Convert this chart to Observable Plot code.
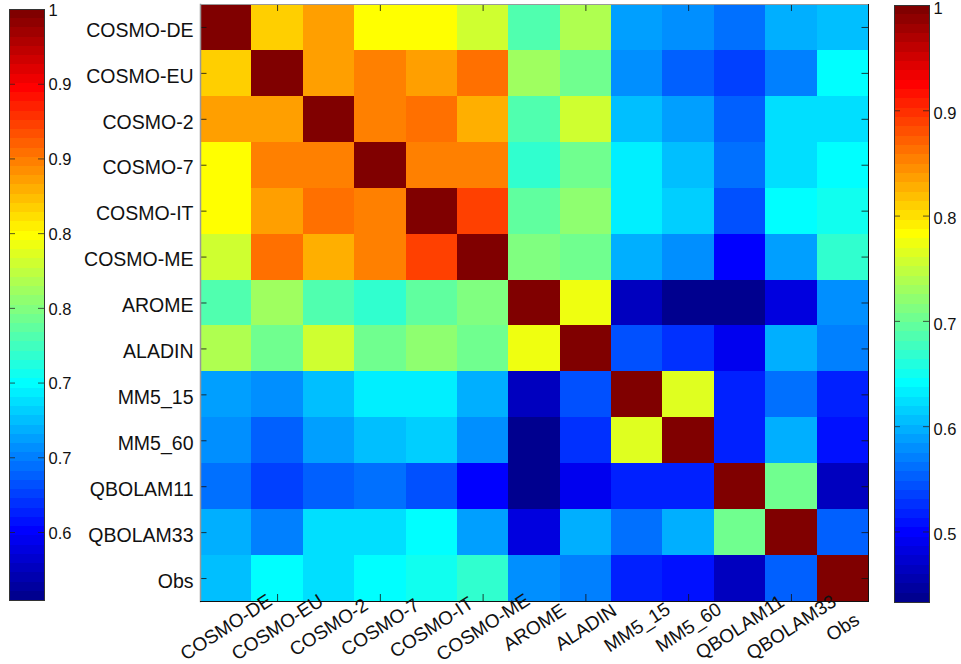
<!DOCTYPE html>
<html>
<head>
<meta charset="utf-8">
<script src="https://cdn.jsdelivr.net/npm/d3@7"></script>
<script src="https://cdn.jsdelivr.net/npm/@observablehq/plot@0.6"></script>
<style>
html,body{margin:0;padding:0;background:#fff;overflow:hidden}
#wrap{position:relative;width:961px;height:664px}
#wrap svg{position:absolute;background:none;overflow:visible}
</style>
</head>
<body>
<div id="wrap"></div>
<script>
const models = ["COSMO-DE","COSMO-EU","COSMO-2","COSMO-7","COSMO-IT","COSMO-ME","AROME","ALADIN","MM5_15","MM5_60","QBOLAM11","QBOLAM33","Obs"];
const rowCosmoDE  = [1,.809,.836,.783,.783,.757,.686,.739,.5885,.5795,.5617,.5973,.606];
const rowCosmoEU  = [.809,1,.836,.8535,.836,.862,.730,.7036,.5795,.5528,.535,.5706,.6412];
const rowCosmo2   = [.836,.836,1,.8535,.862,.8266,.686,.757,.606,.5885,.5528,.624,.624];
const rowCosmo7   = [.783,.8535,.8535,1,.8535,.8535,.668,.7036,.633,.606,.5617,.624,.6412];
const rowCosmoIT  = [.783,.836,.862,.8535,1,.889,.6946,.721,.633,.615,.544,.6412,.650];
const rowCosmoME  = [.757,.862,.8266,.8535,.889,1,.7124,.7036,.5973,.5795,.4995,.5885,.668];
const rowArome    = [.686,.730,.686,.668,.6946,.7124,1,.7745,.464,.4375,.434,.482,.5795];
const rowAladin   = [.739,.7036,.757,.7036,.721,.7036,.7745,1,.544,.5262,.4904,.5973,.5706];
const rowMM515    = [.5885,.5795,.606,.633,.633,.5973,.464,.544,1,.766,.5173,.5617,.5173];
const rowMM560    = [.5795,.5528,.5885,.606,.615,.5795,.4375,.5262,.766,1,.5173,.5973,.5084];
const rowQbolam11 = [.5617,.535,.5528,.5617,.544,.4995,.434,.4904,.5173,.5173,1,.7036,.464];
const rowQbolam33 = [.5973,.5706,.624,.624,.6412,.5885,.482,.5973,.5617,.5973,.7036,1,.5528];
const rowObs      = [.606,.6412,.624,.6412,.650,.668,.5795,.5706,.5173,.5084,.464,.5528,1];
const rows = [rowCosmoDE,rowCosmoEU,rowCosmo2,rowCosmo7,rowCosmoIT,rowCosmoME,rowArome,rowAladin,rowMM515,rowMM560,rowQbolam11,rowQbolam33,rowObs];

const rightDomain = [.433,1];
const rightTicks = [.5,.6,.7,.8,.9,1];
const rightLabels = ["0.5","0.6","0.7","0.8","0.9","1"];
const leftDomain = [.6045,1];
const leftTicks = [1,.95,.9,.85,.8,.75,.7,.65];
const leftLabels = ["1","0.9","0.9","0.8","0.8","0.7","0.7","0.6"];
const xTickModels = ["COSMO-EU","COSMO-7","COSMO-ME","ALADIN","MM5_60","QBOLAM33"];

const FONT = '"Liberation Sans", Arial, sans-serif';
const N = 64;
function jet(t){
  const q = Math.min(N-1, Math.floor(t*N));
  const u = (q+1)/N;
  const c = x => Math.round(255*Math.max(0,Math.min(1,1.5-Math.abs(4*u-x))));
  return `rgb(${c(3)},${c(2)},${c(1)})`;
}
const cells = rows.flatMap((r,i)=>r.map((v,j)=>({row:models[i],col:models[j],v})));
const M = {l:200,r:93,t:4,b:63};
const W = 961, H = 664;
const innerW = W-M.l-M.r, innerH = H-M.t-M.b;

const main = Plot.plot({
  width:W,height:H,marginLeft:M.l,marginRight:M.r,marginTop:M.t,marginBottom:M.b,
  style:{fontFamily:FONT,background:"none"},
  x:{domain:models,padding:0,round:false,axis:null},
  y:{domain:models,padding:0,round:false,axis:null},
  color:{type:"linear",domain:rightDomain,interpolate:jet},
  marks:[
    Plot.cell(cells,{x:"col",y:"row",fill:"v",inset:0,shapeRendering:"crispEdges"}),
    Plot.tickY(models,{y:d=>d,insetRight:innerW-6.5,stroke:"#111",strokeOpacity:.8}),
    Plot.tickY(models,{y:d=>d,insetLeft:innerW-6.5,stroke:"#111",strokeOpacity:.8}),
    Plot.tickX(xTickModels,{x:d=>d,insetTop:innerH-7,stroke:"#111",strokeOpacity:.8}),
    Plot.tickX(xTickModels,{x:d=>d,insetBottom:innerH-7,stroke:"#111",strokeOpacity:.8}),
    Plot.frame({anchor:"top",stroke:"#999",strokeWidth:1}),
    Plot.frame({anchor:"left",stroke:"#999",strokeWidth:1.5}),
    Plot.frame({anchor:"right",stroke:"#111",strokeWidth:1}),
    Plot.frame({anchor:"bottom",stroke:"#111",strokeWidth:1}),
    Plot.text(models,{y:d=>d,text:d=>d,frameAnchor:"left",textAnchor:"end",dx:-7,dy:3,fontSize:19.5,fill:"#111"}),
    Plot.text(models,{x:d=>d,text:d=>d,frameAnchor:"bottom",textAnchor:"middle",lineAnchor:"middle",dy:26,rotate:-33,fontSize:19,fill:"#111"})
  ]
});
main.style.left="0px";main.style.top="0px";

function colorbar(domain,ticks,labels,left,top,w,h,labelDy){
  const levels = d3.range(N);
  const [lo,hi] = domain;
  const yOf = i => lo+(hi-lo)*i/N;
  const svg = Plot.plot({
    width:w+50,height:h,marginLeft:0,marginRight:50,marginTop:0,marginBottom:0,
    style:{fontFamily:FONT,background:"none"},
    x:{domain:[0,1],axis:null},
    y:{domain,axis:null},
    color:{type:"linear",domain,interpolate:jet},
    marks:[
      Plot.rect(levels,{x1:0,x2:1,y1:yOf,y2:i=>yOf(i+1),fill:i=>yOf(i+.5),shapeRendering:"crispEdges"}),
      Plot.tickY(ticks,{y:d=>d,insetRight:w-6,stroke:"#222",strokeOpacity:.75}),
      Plot.tickY(ticks,{y:d=>d,insetLeft:w-6,stroke:"#222",strokeOpacity:.75}),
      Plot.frame({stroke:"#333",strokeWidth:1}),
      Plot.text(ticks,{y:d=>d,text:(d,i)=>labels[i],frameAnchor:"right",textAnchor:"start",dx:4,dy:labelDy,fontSize:16.5,fill:"#111"})
    ]
  });
  svg.style.left=left+"px";svg.style.top=top+"px";
  return svg;
}
const wrap = document.getElementById("wrap");
wrap.append(main,
  colorbar(leftDomain,leftTicks,leftLabels,9,9,35,591,1),
  colorbar(rightDomain,rightTicks,rightLabels,894,5,35,597,3));
</script>
</body>
</html>
